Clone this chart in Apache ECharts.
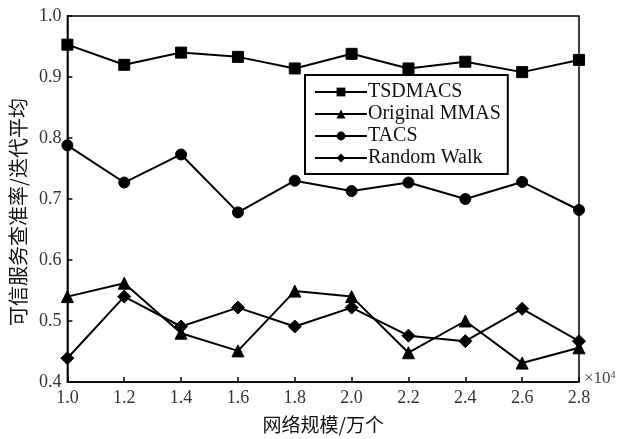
<!DOCTYPE html>
<html>
<head>
<meta charset="utf-8">
<script src="https://cdn.jsdelivr.net/npm/echarts@6/dist/echarts.min.js"></script>
<style>html,body{margin:0;padding:0;background:#fff;}#c{width:622px;height:439px;}</style>
</head>
<body>
<div id="c"></div>
<script>
const xValues = [1.0, 1.2, 1.4, 1.6, 1.8, 2.0, 2.2, 2.4, 2.6, 2.8];
const tsdmacs = [0.953, 0.920, 0.940, 0.933, 0.914, 0.938, 0.914, 0.925, 0.908, 0.928];
const originalMMAS = [0.540, 0.562, 0.480, 0.451, 0.549, 0.540, 0.448, 0.500, 0.431, 0.456];
const tacs = [0.788, 0.727, 0.773, 0.678, 0.730, 0.713, 0.727, 0.700, 0.728, 0.682];
const randomWalk = [0.439, 0.540, 0.491, 0.522, 0.491, 0.522, 0.476, 0.467, 0.520, 0.467];
const seriesNames = ['TSDMACS', 'Original MMAS', 'TACS', 'Random Walk'];
const xAxisName = '网络规模/万个';
const yAxisName = '可信服务查准率/迭代平均';

const serif = '"Liberation Serif", "DejaVu Serif", serif';
const cjk = '"Noto Sans CJK SC", sans-serif';
const pair = (vals) => xValues.map((x, i) => [x, vals[i]]);
const mk = (name, vals, symbol, size) => ({
  name, type: 'line', data: pair(vals), symbol, symbolSize: size,
  lineStyle: { color: '#000', width: 2 },
  itemStyle: { color: '#000', borderColor: '#000' },
  animation: false
});

const chart = echarts.init(document.getElementById('c'), null, { renderer: 'canvas' });
chart.setOption({
  animation: false,
  grid: { left: 63, right: 43, top: 16, bottom: 55, show: true, borderColor: '#000', borderWidth: 1.5, backgroundColor: 'transparent' },
  legend: {
    left: 305, top: 75, orient: 'vertical',
    padding: [7, 7, 6, 9], itemGap: 2,
    borderColor: '#000', borderWidth: 2,
    itemWidth: 52, itemHeight: 11,
    textStyle: { fontFamily: serif, fontSize: 20, lineHeight: 20, color: '#111', padding: [0, 0, 0, -4] },
    data: seriesNames
  },
  xAxis: {
    type: 'value', min: 1.0, max: 2.8, interval: 0.2,
    name: xAxisName, nameLocation: 'middle', nameGap: 33,
    nameTextStyle: { fontFamily: cjk, fontSize: 19, color: '#111' },
    axisLine: { lineStyle: { color: '#000', width: 1.5 } },
    axisTick: { inside: true, length: 5, lineStyle: { color: '#000', width: 1.5 } },
    axisLabel: { fontFamily: serif, fontSize: 18, color: '#333', margin: 7, formatter: v => v.toFixed(1) },
    splitLine: { show: false }
  },
  yAxis: {
    type: 'value', min: 0.4, max: 1.0, interval: 0.1,
    name: yAxisName, nameLocation: 'middle', nameGap: 33,
    nameTextStyle: { fontFamily: cjk, fontSize: 20, color: '#111', padding: [0, 26, 0, 0] },
    axisLine: { show: true, lineStyle: { color: '#000', width: 1.5 } },
    axisTick: { show: true, inside: true, length: 5, lineStyle: { color: '#000', width: 1.5 } },
    axisLabel: { fontFamily: serif, fontSize: 18, color: '#333', margin: 6, formatter: v => v.toFixed(1) },
    splitLine: { show: false }
  },
  graphic: [{
    type: 'text', left: 584, top: 370,
    style: {
      text: '{a|×10}{b|4}',
      rich: {
        a: { fontFamily: serif, fontSize: 17, fill: '#444' },
        b: { fontFamily: serif, fontSize: 10, fill: '#444', verticalAlign: 'top', padding: [0, 0, 8, 0] }
      }
    }
  }],
  series: [
    mk(seriesNames[0], tsdmacs, 'rect', 11),
    mk(seriesNames[1], originalMMAS, 'triangle', 12),
    mk(seriesNames[2], tacs, 'circle', 11),
    mk(seriesNames[3], randomWalk, 'diamond', 13)
  ]
});
</script>
</body>
</html>
